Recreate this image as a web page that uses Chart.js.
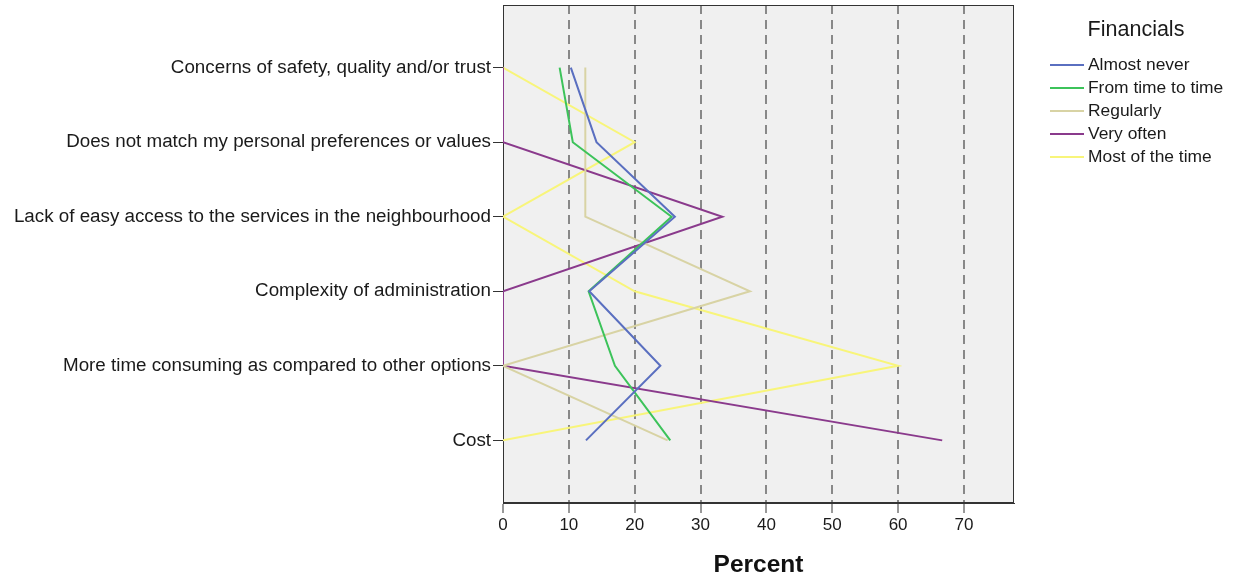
<!DOCTYPE html>
<html>
<head>
<meta charset="utf-8">
<script src="https://cdn.jsdelivr.net/npm/chart.js@4.4.1/dist/chart.umd.min.js"></script>
<style>
  html, body { margin: 0; padding: 0; background: #fff; }
  canvas { display: block; }
</style>
</head>
<body>
<canvas id="js-chart-financials" width="1234" height="581"></canvas>
<script>
// Chart data
const categories = [
  'Concerns of safety, quality and/or trust',
  'Does not match my personal preferences or values',
  'Lack of easy access to the services in the neighbourhood',
  'Complexity of administration',
  'More time consuming as compared to other options',
  'Cost'
];
const seriesNames = ['Almost never', 'From time to time', 'Regularly', 'Very often', 'Most of the time'];
const seriesColors = ['#5a6fc0', '#3cc35a', '#d8d3a4', '#8a3a8c', '#f8f57a'];
const almostNever = [10.3, 14.2, 26.1, 13.1, 23.9, 12.6];
const fromTimeToTime = [8.6, 10.6, 25.6, 13.0, 17.0, 25.4];
const regularly = [12.5, 12.5, 12.5, 37.5, 0, 25.0];
const veryOften = [0, 0, 33.3, 0, 0, 66.7];
const mostOfTheTime = [0, 20, 0, 20, 60, 0];
const xTicks = [0, 10, 20, 30, 40, 50, 60, 70];

const seriesValues = [almostNever, fromTimeToTime, regularly, veryOften, mostOfTheTime];

const fontFamily = '"Liberation Sans", Arial, sans-serif';
Chart.defaults.font.family = fontFamily;
Chart.defaults.font.size = 17;
Chart.defaults.color = '#1a1a1a';

// Plot background + frame
const plotFrame = {
  id: 'plotFrame',
  beforeDraw(chart) {
    const {ctx, chartArea: a} = chart;
    ctx.save();
    ctx.fillStyle = '#f0f0f0';
    ctx.fillRect(a.left, a.top, a.right - a.left, a.bottom - a.top);
    ctx.restore();
  },
  beforeDatasetsDraw(chart) {
    const {ctx, chartArea: a} = chart;
    ctx.save();
    ctx.strokeStyle = '#333';
    ctx.lineWidth = 1;
    ctx.strokeRect(a.left + 0.5, a.top + 0.5, a.right - a.left - 1, a.bottom - a.top - 1);
    ctx.restore();
  }
};

// Legend on the right, SPSS style
const sideLegend = {
  id: 'sideLegend',
  afterDraw(chart) {
    const ctx = chart.ctx;
    ctx.save();
    ctx.fillStyle = '#1a1a1a';
    ctx.textBaseline = 'middle';
    ctx.textAlign = 'center';
    ctx.font = '21.5px ' + fontFamily;
    ctx.fillText('Financials', 1136, 30);
    ctx.textAlign = 'left';
    ctx.font = '17.4px ' + fontFamily;
    chart.data.datasets.forEach((ds, i) => {
      const y = 65 + i * 23;
      ctx.strokeStyle = ds.borderColor;
      ctx.lineWidth = 2;
      ctx.beginPath();
      ctx.moveTo(1050, y);
      ctx.lineTo(1084, y);
      ctx.stroke();
      ctx.fillText(ds.label, 1088, y);
    });
    ctx.restore();
  }
};

let chartCon = document.getElementById('js-chart-financials');

let chartData = {
  datasets: seriesNames.map((name, s) => ({
    label: name,
    data: categories.map((c, i) => ({x: seriesValues[s][i], y: i})),
    showLine: true,
    borderColor: seriesColors[s],
    backgroundColor: seriesColors[s],
    borderWidth: 2,
    pointRadius: 0,
    tension: 0
  }))
};

let chartOptions = {
  responsive: false,
  animation: false,
  devicePixelRatio: 1,
  layout: {
    padding: {top: 5, right: 220, left: 0, bottom: 0}
  },
  plugins: {
    legend: {display: false},
    tooltip: {enabled: false}
  },
  scales: {
    x: {
      type: 'linear',
      min: 0,
      max: 77.6,
      afterBuildTicks: (scale) => { scale.ticks = xTicks.map(v => ({value: v})); },
      afterFit: (scale) => { scale.height = 78; scale.paddingLeft = 0; scale.paddingRight = 0; },
      ticks: {padding: 2, font: {size: 17}},
      grid: {
        color: (ctx) => (ctx.tick && ctx.tick.value === 0) ? 'rgba(0,0,0,0)' : '#888',
        lineWidth: 2,
        tickColor: '#333',
        tickWidth: 1,
        tickLength: 10
      },
      border: {display: true, color: '#333', width: 1, dash: [9, 6]},
      title: {
        display: true,
        text: 'Percent',
        font: {size: 24.5, weight: 'bold'},
        color: '#111',
        padding: {top: 0, bottom: 1}
      }
    },
    y: {
      type: 'linear',
      reverse: true,
      min: -0.84,
      max: 5.84,
      afterBuildTicks: (scale) => { scale.ticks = categories.map((c, i) => ({value: i})); },
      afterFit: (scale) => { scale.width = 503; scale.paddingTop = 0; scale.paddingBottom = 0; },
      ticks: {
        padding: 2,
        font: {size: 18.8},
        callback: (v) => categories[v]
      },
      grid: {
        drawOnChartArea: false,
        color: '#333',
        tickLength: 10
      },
      border: {display: true, color: '#333', width: 1}
    }
  }
};

let chartFinancials = new Chart(chartCon, {
  type: 'scatter',
  data: chartData,
  options: chartOptions,
  plugins: [plotFrame, sideLegend]
});
</script>
</body>
</html>
